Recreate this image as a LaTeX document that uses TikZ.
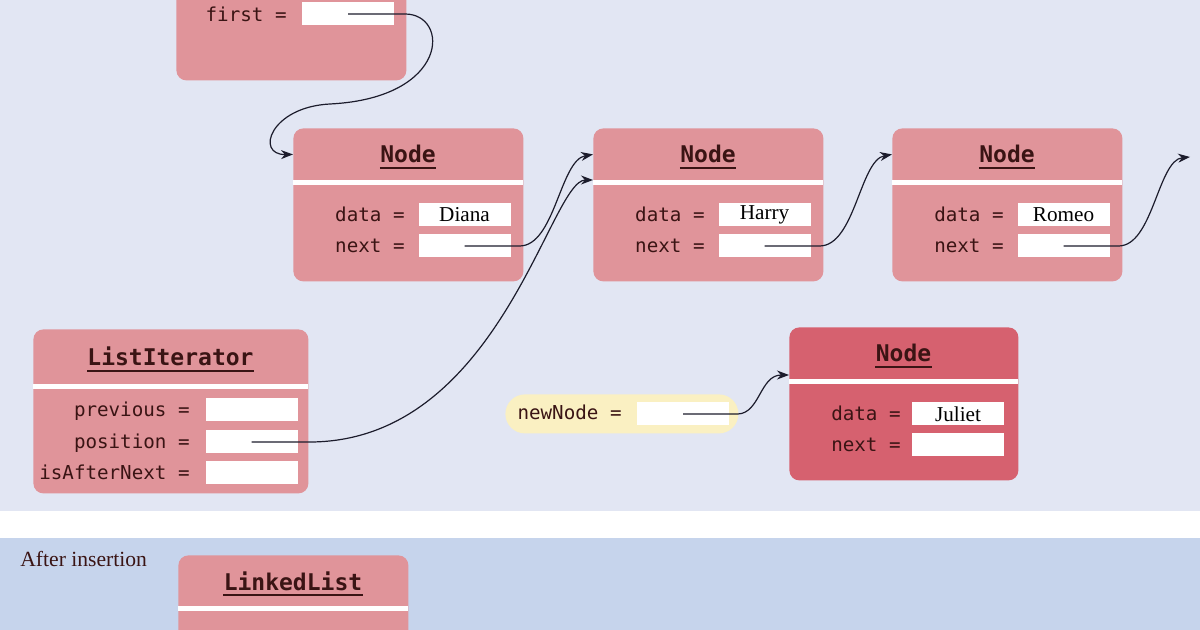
\documentclass[tikz,border=0pt]{standalone}
\usepackage{fontspec}
\setmainfont{Liberation Serif}
\setmonofont{DejaVu Sans Mono}
\usetikzlibrary{arrows.meta,positioning}
\definecolor{panel}{HTML}{E2E6F3}
\definecolor{panellow}{HTML}{C6D4EC}
\definecolor{boxred}{HTML}{E0949A}
\definecolor{newred}{HTML}{D6616F}
\definecolor{ink}{HTML}{3A1414}
\definecolor{pillyellow}{HTML}{FAF0C2}
\definecolor{arrowc}{HTML}{1C1C2C}

\begin{document}
\begin{tikzpicture}[x=0.5pt, y=-0.5pt,
	box/.style={fill=boxred, rounded corners=5pt, inner sep=0pt, anchor=north west},
	sep/.style={white, line width=2.5pt},
	ttl/.style={font=\ttfamily\bfseries\fontsize{11.5}{13}\selectfont, text=ink, inner sep=0pt, anchor=base},
	ul/.style={ink, line width=0.8pt},
	lbl/.style={font=\ttfamily\fontsize{9.6}{11}\selectfont, text=ink, inner sep=0pt, anchor=base east},
	field/.style={fill=white, minimum width=46pt, minimum height=11.5pt, inner sep=0pt, font=\fontsize{10.6}{12}\selectfont},
	link/.style={draw=arrowc, line width=0.6pt, -{Stealth[length=6pt,width=4.5pt]}}]

		\useasboundingbox (0,0) rectangle (1200,630);
		\clip (0,0) rectangle (1200,630);

		% panels
		\fill[panel] (0,0) rectangle (1200,511);
		\fill[white] (0,511) rectangle (1200,538);
		\fill[panellow] (0,538) rectangle (1200,630);

		% list head, cut at the top
		\node[box, minimum width=115pt, minimum height=80pt] (ll) at (176,-80) {};
		\node[lbl] at (287,22) {first =};
		\node[field] (first) at (348,14) {};

		% the three nodes of the list
		\foreach \x/\name/\i in {293/Diana/1, 593/Harry/2, 892/Romeo/3} {
			\node[box, minimum width=115pt, minimum height=76.5pt] (n\i) at (\x,128) {};
			\node[ttl] (t\i) at (\x+115,163) {Node};
			\draw[sep] (\x,183) -- (\x+230,183);
			\node[lbl] at (\x+112,222) {data =};
			\node[field] (d\i) at (\x+171.5,215) {\name};
			\node[lbl] at (\x+112,253) {next =};
			\node[field] (nx\i) at (\x+171.5,246) {};
		}
		\coordinate (tail) at (1190,157);

		% iterator
		\node[box, minimum width=137.5pt, minimum height=82pt] (it) at (33,329) {};
		\node[ttl] (ti) at (170.5,366) {ListIterator};
		\draw[sep] (33,387) -- (308,387);
		\foreach \y/\f/\txt in {410/prev/previous =, 442/pos/position =, 473/after/isAfterNext =} {
			\node[lbl] at (190,\y+7) {\txt};
			\node[field] (\f) at (251.5,\y) {};
		}

		% new node
		\node[box, fill=newred, minimum width=114.5pt, minimum height=76.5pt] (nj) at (789,327) {};
		\node[ttl] (tj) at (903.5,362) {Node};
		\draw[sep] (789,382) -- (1018,382);
		\node[lbl] at (901,421) {data =};
		\node[field] (dj) at (958,414) {Juliet};
		\node[lbl] at (901,452) {next =};
		\node[field] (nxj) at (958,445) {};

		\node[fill=pillyellow, rounded corners=9.75pt, minimum width=116.5pt, minimum height=19.5pt,
			inner sep=0pt, anchor=north west] (pill) at (505,394) {};
		\node[lbl] at (622,420) {newNode =};
		\node[field] (nn) at (683,414) {};

		% lower panel
		\node[font=\fontsize{10.8}{12}\selectfont, text=ink, anchor=base west, inner sep=0pt] (cap) at (20,567) {After insertion};
		\node[box, minimum width=115pt, minimum height=60pt] (lb) at (178,555) {};
		\node[ttl] (tb) at (293,590) {LinkedList};
		\draw[sep] (178,608) -- (408,608);

		\foreach \t in {t1,t2,t3,tj,ti,tb}
			\draw[ul] ([yshift=-2.6pt]\t.base west) -- ([yshift=-2.6pt]\t.base east);

		% references
		\draw[link] (first.center) -- ++(57,0) .. controls (450,14) and (450,98) .. (330,104)
			.. controls (270,107) and (255,155) .. (n1.west |- t1.center);
		\draw[link] (nx1.center) -- ++(55,0) .. controls (555,246) and (560,160) .. (n2.west |- t2.center);
		\draw[link] (nx2.center) -- ++(55,0) .. controls (855,246) and (860,160) .. (n3.west |- t3.center);
		\draw[link] (nx3.center) -- ++(55,0) .. controls (1153,246) and (1158,160) .. (tail);
		\draw[link] (pos.center) -- ++(60,0) .. controls (500,440) and (550,180) .. ([yshift=-26pt]n2.north west);
		\draw[link] (nn.center) -- ++(55,0) .. controls (760,413) and (760,375) .. ([yshift=-24pt]nj.north west);
	\end{tikzpicture}
\end{document}
